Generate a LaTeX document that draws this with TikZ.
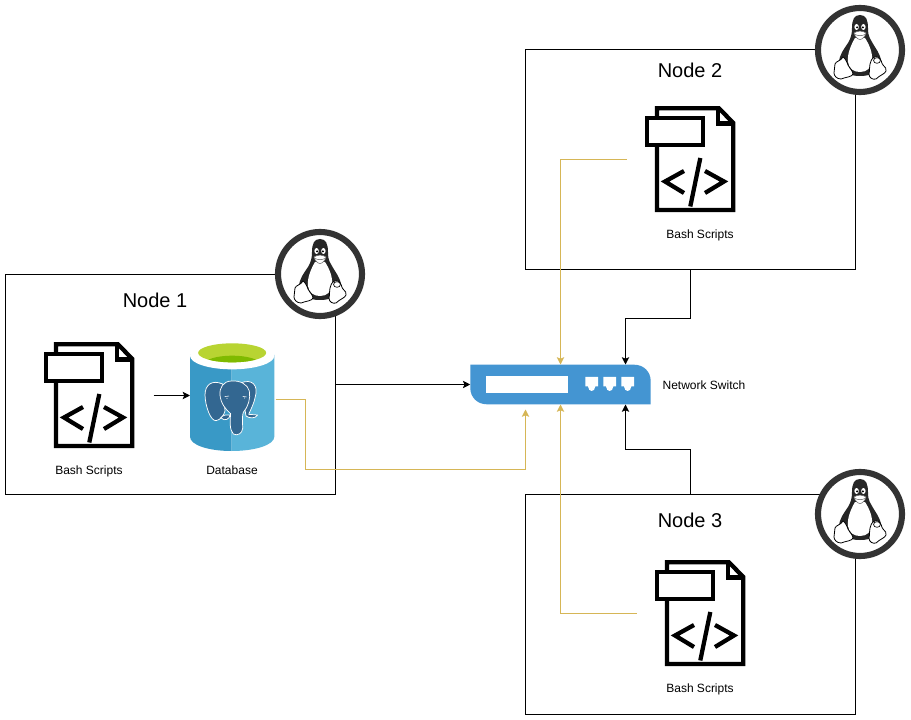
\documentclass[tikz,border=0pt]{standalone}
\usepackage{fontspec}
\setmainfont{Liberation Sans}
\usetikzlibrary{arrows.meta}
\definecolor{wire}{HTML}{D6B656}
\definecolor{ringc}{HTML}{333333}
\definecolor{swblue}{HTML}{4495D2}
\definecolor{dbl}{HTML}{3999C6}
\definecolor{dbr}{HTML}{59B4D9}
\definecolor{dbg}{HTML}{B8D432}
\definecolor{dbgd}{HTML}{7FBA00}
\definecolor{ele}{HTML}{336791}
\tikzset{
  x=0.75pt,y=-0.75pt,
  nodebox/.style={draw=black,line width=0.75pt,fill=white,minimum width=247.5pt,minimum height=165pt,inner sep=0pt},
  ttl/.style={font=\fontsize{15}{18}\selectfont,inner sep=0pt},
  lbl/.style={font=\fontsize{9}{11}\selectfont,inner sep=0pt},
  blk/.style={draw=black,line width=0.75pt,-{Stealth[length=5.5pt,width=5.5pt,inset=1.2pt]}},
  yel/.style={draw=wire,line width=0.75pt,-{Stealth[length=5.5pt,width=5.5pt,inset=1.2pt]}},
  docline/.style={draw=black,line width=3.2pt,line join=miter},
  tux/.pic={
    \draw[ringc,line width=4.6pt,fill=white] (0,0) circle (42);
    % body
    \fill[black!85] (0,-35) .. controls (-6,-35) and (-8,-30) .. (-8,-22)
      .. controls (-8,-16) and (-9,-12) .. (-12,-7)
      .. controls (-16,-1) and (-21,5) .. (-21,13)
      .. controls (-21,20) and (-14,26) .. (0,26)
      .. controls (14,26) and (21,20) .. (21,12)
      .. controls (21,4) and (15,-2) .. (12,-8)
      .. controls (8,-14) and (8,-18) .. (8,-22)
      .. controls (8,-30) and (6,-35) .. (0,-35) -- cycle;
    % belly
    \fill[white] (-5,-12) .. controls (-9,-5) and (-13,4) .. (-12,12)
      .. controls (-11,19) and (-6,22) .. (0,22)
      .. controls (7,22) and (11,18) .. (12,11)
      .. controls (13,3) and (9,-6) .. (5,-12) -- cycle;
    % eyes
    \fill[white] (-3.4,-23) ellipse (2.2 and 3);
    \fill[white] (3.4,-23) ellipse (2.2 and 3);
    \fill[black] (-2.9,-22.6) circle (1.1);
    \fill[black] (2.9,-22.6) circle (1.1);
    % beak
    \filldraw[draw=black!60,fill=white,line width=0.4pt] (-6,-17) .. controls (-3,-19.5) and (3,-19.5) .. (6,-17)
      .. controls (5,-13) and (2,-10.5) .. (0,-10.5) .. controls (-2,-10.5) and (-5,-13) .. (-6,-17) -- cycle;
    \draw[black!60,line width=0.4pt] (-5,-15.5) .. controls (-2,-14) and (2,-14) .. (5,-15.5);
    % feet
    \filldraw[draw=black,fill=white,line width=0.6pt,line join=round] (-17,7) .. controls (-15,8) and (-13,12) .. (-12,15)
      .. controls (-10,19) and (-7,21) .. (-7,24)
      .. controls (-8,27) and (-14,27) .. (-19,29)
      .. controls (-23,29) and (-26,26) .. (-26,23)
      .. controls (-26,20) and (-25,17) .. (-25,14)
      .. controls (-24,11) and (-19,11) .. (-17,7) -- cycle;
    \filldraw[draw=black,fill=white,line width=0.6pt,line join=round] (11,11) .. controls (12,8) and (15,6) .. (18,7)
      .. controls (22,9) and (21,13) .. (23,15)
      .. controls (25,17) and (27,19) .. (26,21)
      .. controls (25,24) and (20,25) .. (16,29)
      .. controls (13,30) and (9,28) .. (9,24)
      .. controls (10,20) and (9,15) .. (11,11) -- cycle;
    \draw[black,line width=0.5pt,fill=white] (17,10.5) ellipse (3.4 and 2.8);
  },
  scriptdoc/.pic={
    % local origin is the top-left of the icon
    \draw[docline,fill=white] (12,2.3) -- (74,2.3) -- (88.3,17) -- (88.3,104) -- (12,104) -- cycle;
    \draw[docline] (73,2.3) -- (73,17.5) -- (88.3,17.5);
    \draw[docline,fill=white] (2,12) rectangle (58,38.8);
    \draw[black,line width=3.2pt] (39,65) -- (20,75.5) -- (39,87);
    \draw[black,line width=3.2pt] (60,65) -- (79,75.5) -- (60,87);
    \draw[black,line width=3.2pt] (55.3,52) -- (45.3,100.5);
  },
  pgdb/.pic={
    % local coordinates are three to the pixel, from (180,335)
    \begin{scope}[x=0.25pt,y=-0.25pt]
      \fill[dbl] (30,60) -- (155,60) -- (155,348) .. controls (85,348) and (30,330) .. (30,305) -- cycle;
      \fill[dbr] (155,60) -- (283,60) -- (283,305) .. controls (283,330) and (225,348) .. (155,348) -- cycle;
      \fill[white] (156.5,62.5) ellipse (126.5 and 40.5);
      \fill[dbg] (156.5,53.5) ellipse (102 and 28.5);
      \begin{scope}
        \clip (156.5,53.5) ellipse (102 and 28.5);
        \fill[dbgd] (156.5,88) ellipse (84 and 26);
      \end{scope}
      \begin{scope}[line width=0.55pt,draw=white,fill=ele,line join=round]
        \filldraw (128,147) .. controls (95,133) and (75,150) .. (75,180)
          .. controls (76,215) and (92,258) .. (108,257)
          .. controls (122,255) and (132,240) .. (135,228) -- cycle;
        \filldraw (182,144) .. controls (215,130) and (236,150) .. (226,185)
          .. controls (222,205) and (214,220) .. (206,238)
          .. controls (215,240) and (226,238) .. (233,240)
          .. controls (225,252) and (208,250) .. (198,243) -- cycle;
        \filldraw (122,248) .. controls (130,240) and (140,238) .. (150,240)
          .. controls (150,250) and (135,262) .. (122,248) -- cycle;
        \filldraw (155,138) .. controls (130,138) and (118,158) .. (120,180)
          .. controls (122,205) and (138,225) .. (152,236)
          .. controls (150,255) and (148,285) .. (160,297)
          .. controls (172,304) and (187,295) .. (188,280)
          .. controls (188,260) and (186,240) .. (190,232)
          .. controls (205,215) and (212,190) .. (208,168)
          .. controls (203,148) and (180,136) .. (155,138) -- cycle;
      \end{scope}
      \fill[white] (141,190) circle (1.6);
      \fill[white] (194,189) circle (1.6);
      \draw[white,line width=0.4pt] (134,185) -- (147,183);
      \draw[white,line width=0.4pt] (188,184) -- (200,186);
    \end{scope}
  },
  netswitch/.pic={
    \fill[swblue] (470.3,364.7) -- (634,364.7) .. controls (644,364.7) and (650.7,372) .. (650.7,381)
      -- (650.7,404.3) -- (487,404.3) .. controls (477,404.3) and (470.3,397) .. (470.3,388) -- cycle;
    \fill[white] (486,376) rectangle (568.3,392.6);
    \foreach \px in {585.3,603.3,621.3} {
      \fill[white] (\px,377) -- (\px+12.7,377) -- (\px+12.7,386.5) -- (\px+10,386.5)
        .. controls (\px+9.5,392.5) and (\px+3.2,392.5) .. (\px+2.7,386.5) -- (\px,386.5) -- cycle;
    }
  }
}
\begin{document}
\begin{tikzpicture}
\useasboundingbox (0,0) rectangle (911,720);
\fill[white] (0,0) rectangle (911,720);

% node frames
\node[nodebox] (n1) at (170.5,384.5) {};
\node[nodebox] (n2) at (690.5,159.5) {};
\node[nodebox] (n3) at (690.5,604.5) {};

% linux badges
\pic at (320,274) {tux};
\pic at (860,50) {tux};
\pic at (860,514) {tux};

% icons
\pic at (44,342) {scriptdoc};
\pic at (645,106) {scriptdoc};
\pic at (655,560) {scriptdoc};
\pic at (180,335) {pgdb};
\pic at (0,0) {netswitch};

% connector anchors
\node[inner sep=0pt,minimum width=135pt,minimum height=30pt] (sw) at (560.5,384.5) {};
\coordinate (swtopa) at (560.5,364.5);
\coordinate (swtopb) at (625.5,364.5);
\coordinate (swbota) at (560.5,404.5);
\coordinate (swbotb) at (625.5,404.5);
\coordinate (swbotc) at (525.5,409.5);
\coordinate (s1out) at (153.5,395.5);
\coordinate (dbin) at (190,395.5);
\coordinate (dbout) at (275.5,399.5);
\coordinate (s2out) at (626.5,159.5);
\coordinate (s3out) at (636.5,613.5);

% connectors
\draw[blk] (n1.east |- sw.west) -- (sw.west);
\draw[blk] (s1out) -- (dbin);
\draw[blk] (n2.south) -- ++(0,48.5) -| (swtopb);
\draw[blk] (n3.north) -- ++(0,-44.5) -| (swbotb);
\draw[yel] (s2out) -| (swtopa);
\draw[yel] (s3out) -| (swbota);
\draw[yel] (dbout) -- (305.5,399.5) -- (305.5,469.5) -| (swbotc);

% labels
\node[ttl] (t1) at (155,300) {Node 1};
\node[ttl] (t2) at (690,70) {Node 2};
\node[ttl] (t3) at (690,520) {Node 3};
\node[lbl] (l1) at (89,471) {Bash Scripts};
\node[lbl] (l2) at (232,470) {Database};
\node[lbl] (l3) at (700,235) {Bash Scripts};
\node[lbl] (l4) at (700,689) {Bash Scripts};
\node[lbl] (l5) at (704,385) {Network Switch};
\end{tikzpicture}
\end{document}
